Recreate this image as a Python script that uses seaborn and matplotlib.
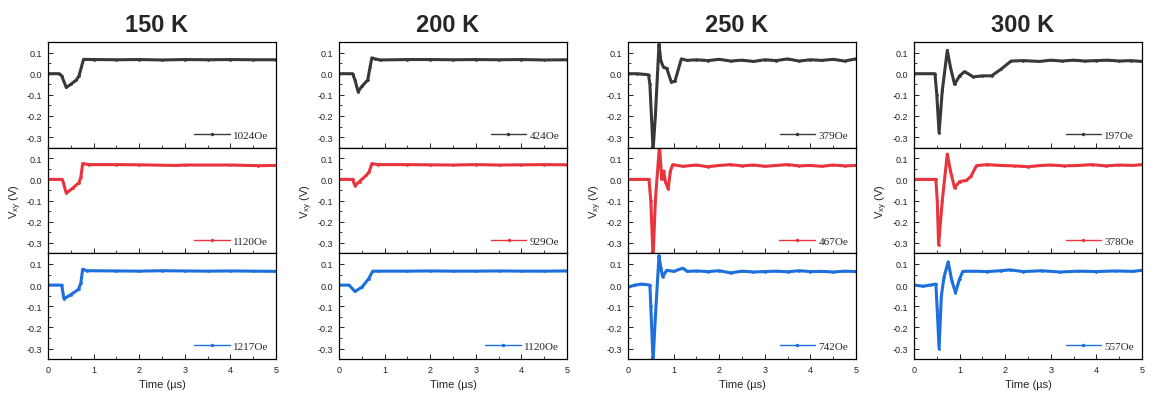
import numpy
import pandas as pd
import seaborn as sns
import matplotlib.pyplot as plt

##
# Data (time in us, Vxy in V)
##
temperatures = ['150 K', '200 K', '250 K', '300 K']
colors = ['#383838', '#e8343c', '#1c6fdc']

# 150 K
t_150_a = [0, 0.25, 0.3, 0.4, 0.5, 0.62, 0.68, 0.78, 1.0, 1.5, 2.0, 2.5, 3.0, 3.5, 4.0, 4.5, 5.0]
v_150_a = [0, 0, -0.01, -0.065, -0.05, -0.03, -0.01, 0.068, 0.067, 0.066, 0.067, 0.065, 0.067, 0.066, 0.067, 0.066, 0.066]
t_150_b = [0, 0.3, 0.33, 0.4, 0.55, 0.68, 0.72, 0.76, 0.9, 1.5, 2.0, 2.8, 3.0, 4.0, 4.6, 5.0]
v_150_b = [0, 0, -0.01, -0.065, -0.04, -0.015, 0.01, 0.075, 0.07, 0.07, 0.069, 0.066, 0.068, 0.068, 0.065, 0.066]
t_150_c = [0, 0.3, 0.35, 0.5, 0.67, 0.72, 0.76, 0.85, 1.5, 2.0, 2.5, 3.0, 3.5, 4.0, 4.5, 5.0]
v_150_c = [0, 0, -0.065, -0.045, -0.02, 0.01, 0.075, 0.068, 0.067, 0.066, 0.068, 0.067, 0.066, 0.067, 0.066, 0.065]

# 200 K
t_200_a = [0, 0.3, 0.35, 0.42, 0.5, 0.63, 0.68, 0.72, 0.8, 0.9, 1.5, 2.0, 2.5, 3.0, 3.5, 4.0, 4.5, 5.0]
v_200_a = [0, 0, -0.03, -0.085, -0.06, -0.03, 0.03, 0.075, 0.07, 0.065, 0.067, 0.067, 0.066, 0.067, 0.066, 0.067, 0.065, 0.066]
t_200_b = [0, 0.3, 0.35, 0.45, 0.6, 0.66, 0.72, 0.85, 1.5, 2.0, 2.5, 3.0, 3.5, 4.0, 4.5, 5.0]
v_200_b = [0, 0, -0.03, -0.01, 0.02, 0.035, 0.075, 0.07, 0.07, 0.069, 0.068, 0.07, 0.068, 0.069, 0.07, 0.069]
t_200_c = [0, 0.22, 0.35, 0.5, 0.65, 0.74, 0.85, 1.5, 2.0, 2.5, 3.0, 3.5, 4.0, 4.5, 5.0]
v_200_c = [0, 0, -0.03, -0.01, 0.03, 0.066, 0.066, 0.066, 0.067, 0.066, 0.066, 0.067, 0.066, 0.066, 0.067]

# 250 K
t_250_a = [0, 0.2, 0.45, 0.48, 0.55, 0.6, 0.68, 0.72, 0.78, 0.85, 0.95, 1.03, 1.17, 1.3, 1.5, 1.75, 2.0, 2.25, 2.5, 2.75,
           3.0, 3.25, 3.5, 3.75, 4.0, 4.25, 4.5, 4.75, 5.0]
v_250_a = [0, 0.0, -0.005, -0.05, -0.36, -0.2, 0.14, 0.06, 0.03, 0.025, -0.04, -0.035, 0.07, 0.063, 0.066, 0.062, 0.068,
           0.06, 0.064, 0.058, 0.066, 0.062, 0.07, 0.06, 0.066, 0.063, 0.068, 0.06, 0.07]
t_250_b = [0, 0.2, 0.46, 0.5, 0.55, 0.6, 0.69, 0.74, 0.78, 0.82, 0.88, 0.93, 0.98, 1.2, 1.5, 1.75, 2.0, 2.25, 2.5, 2.75,
           3.0, 3.25, 3.5, 3.75, 4.0, 4.25, 4.5, 4.75, 5.0]
v_250_b = [0, 0.0, 0.0, -0.1, -0.37, -0.1, 0.16, 0.0, 0.04, -0.01, -0.045, 0.04, 0.07, 0.062, 0.068, 0.06, 0.066, 0.07,
           0.064, 0.068, 0.062, 0.066, 0.07, 0.064, 0.066, 0.062, 0.068, 0.064, 0.066]
t_250_c = [0, 0.15, 0.3, 0.48, 0.5, 0.55, 0.6, 0.68, 0.72, 0.76, 0.85, 1.0, 1.2, 1.3, 1.5, 1.75, 2.0, 2.25, 2.5, 2.75,
           3.0, 3.25, 3.5, 3.75, 4.0, 4.25, 4.5, 4.75, 5.0]
v_250_c = [-0.01, 0.0, 0.005, 0.0, -0.1, -0.36, -0.15, 0.14, 0.08, 0.04, 0.07, 0.065, 0.08, 0.065, 0.067, 0.064, 0.068,
           0.058, 0.066, 0.062, 0.064, 0.066, 0.063, 0.068, 0.064, 0.065, 0.062, 0.066, 0.064]

# 300 K
t_300_a = [0, 0.46, 0.5, 0.55, 0.62, 0.73, 0.8, 0.89, 1.0, 1.11, 1.3, 1.5, 1.7, 1.9, 2.13, 2.4, 2.75, 3.0, 3.25,
           3.5, 3.75, 4.0, 4.25, 4.5, 4.75, 5.0]
v_300_a = [0, 0, -0.1, -0.28, -0.08, 0.11, 0.03, -0.05, -0.01, 0.01, -0.015, -0.01, -0.01, 0.02, 0.06, 0.062, 0.058, 0.064,
           0.06, 0.064, 0.06, 0.062, 0.064, 0.06, 0.062, 0.058]
t_300_b = [0, 0.48, 0.51, 0.54, 0.62, 0.73, 0.8, 0.89, 1.0, 1.15, 1.25, 1.37, 1.6, 1.9, 2.2, 2.5, 2.8, 3.0, 3.3,
           3.6, 3.9, 4.2, 4.5, 4.8, 5.0]
v_300_b = [0, 0, -0.1, -0.31, -0.1, 0.12, 0.04, -0.04, -0.01, -0.005, 0.015, 0.065, 0.07, 0.066, 0.064, 0.06, 0.066, 0.068,
           0.064, 0.066, 0.07, 0.064, 0.068, 0.066, 0.07]
t_300_c = [0, 0.2, 0.35, 0.48, 0.51, 0.55, 0.6, 0.66, 0.75, 0.83, 0.91, 1.0, 1.07, 1.3, 1.6, 1.9, 2.1, 2.4, 2.8,
           3.2, 3.6, 4.0, 4.4, 4.8, 5.0]
v_300_c = [0, -0.005, 0.0, 0.005, -0.12, -0.3, -0.05, 0.04, 0.11, 0.02, -0.035, 0.03, 0.065, 0.066, 0.064, 0.068, 0.072,
           0.064, 0.068, 0.062, 0.066, 0.064, 0.067, 0.065, 0.07]

fields = [['1024Oe', '1120Oe', '1217Oe'],
          ['424Oe', '929Oe', '1120Oe'],
          ['379Oe', '467Oe', '742Oe'],
          ['197Oe', '378Oe', '557Oe']]
times = [[t_150_a, t_150_b, t_150_c], [t_200_a, t_200_b, t_200_c],
         [t_250_a, t_250_b, t_250_c], [t_300_a, t_300_b, t_300_c]]
volts = [[v_150_a, v_150_b, v_150_c], [v_200_a, v_200_b, v_200_c],
         [v_250_a, v_250_b, v_250_c], [v_300_a, v_300_b, v_300_c]]

##
# Plot
##
sns.set_style('ticks')
plt.rcParams['font.family'] = ['Liberation Sans', 'DejaVu Sans']
plt.rcParams['axes.unicode_minus'] = False
plt.rcParams['mathtext.default'] = 'regular'

W, H = 1159, 402
fig = plt.figure(figsize=(W / 100, H / 100), dpi=100)

col_left = [48, 339, 628, 914]
col_width = 228
panel_top = 43
panel_h = 105.7

for c in range(4):
    for r in range(3):
        y0 = panel_top + panel_h * (r + 1)
        ax = fig.add_axes([col_left[c] / W, 1 - y0 / H, col_width / W, panel_h / H])
        df = pd.DataFrame({'t': times[c][r], 'v': volts[c][r]})
        sns.lineplot(data=df, x='t', y='v', ax=ax, color=colors[r], lw=2.2,
                     marker='o', markersize=2, markeredgewidth=0, label=fields[c][r])
        ax.set_xlim(0, 5)
        ax.set_ylim(-0.35, 0.15)
        ax.set_yticks([0.1, 0.0, -0.1, -0.2, -0.3])
        ax.set_yticklabels(['0.1', '0.0', '-0.1', '-0.2', '-0.3'])
        ax.set_yticks(numpy.arange(-0.35, 0.151, 0.05), minor=True)
        ax.set_xticks(range(6))
        ax.set_xticks(numpy.arange(0.5, 5, 1.0), minor=True)
        ax.tick_params(which='major', direction='in', length=3.5, width=0.7, labelsize=6.5, colors='#222222', pad=4)
        ax.tick_params(which='minor', direction='in', length=2, width=0.6)
        for s in ax.spines.values():
            s.set_visible(True)
            s.set_linewidth(0.9)
            s.set_color('black')
        ax.set_xlabel('')
        ax.set_ylabel('')
        if r < 2:
            ax.set_xticklabels([])
        else:
            ax.set_xlabel('Time (µs)', fontsize=8, labelpad=4)
        if r == 1:
            ax.set_ylabel('V$_{xy}$ (V)', fontsize=8, labelpad=2)
        leg = ax.legend(loc='lower right', frameon=False, handlelength=3.2, handletextpad=0.3,
                        borderaxespad=0.3, prop={'family': 'Liberation Serif', 'size': 8})
        for h in leg.legend_handles:
            h.set_linewidth(1.0)
            h.set_markersize(2.5)

    fig.text((col_left[c] + col_width / 2 - 5) / W, 1 - 25 / H, temperatures[c],
             ha='center', va='center', fontsize=17, fontweight='bold')

fig.savefig('out.png', dpi=100)
